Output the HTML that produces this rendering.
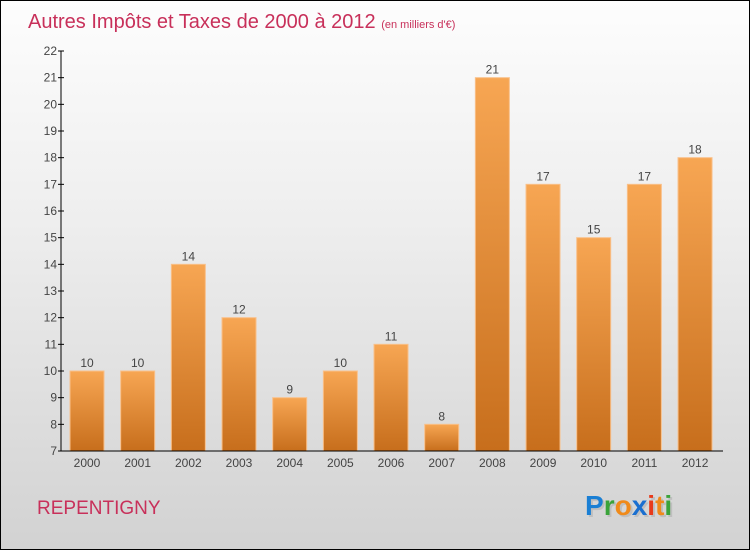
<!DOCTYPE html>
<html><head><meta charset="utf-8"><style>
body{margin:0}
#c{width:750px;height:550px;position:relative;box-sizing:border-box;border:1px solid #000;background:linear-gradient(#fdfdfd,#eeeeee 40%,#d2d2d2);font-family:"Liberation Sans",sans-serif;overflow:hidden}
</style></head><body>
<div id="c">
<svg id="s" width="750" height="550" style="position:absolute;left:0;top:0">
<defs><linearGradient id="g" x1="0" y1="0" x2="0" y2="1"><stop offset="0" stop-color="#f7a653"/><stop offset="1" stop-color="#c76e1c"/></linearGradient></defs>
<text x="27" y="27" font-size="20" fill="#c8305a">Autres Impôts et Taxes de 2000 à 2012 <tspan font-size="11">(en milliers d'€)</tspan></text>
<text x="36" y="513" font-size="19" fill="#c8305a">REPENTIGNY</text>
<g font-size="28" font-weight="bold" font-family="'Liberation Sans',sans-serif">
<text x="586" y="516" fill="#aaa" opacity="0.5">Proxiti</text>
<text x="584" y="514"><tspan fill="#1a7fd4">P</tspan><tspan fill="#3aa33a">r</tspan><tspan fill="#f08a1a">o</tspan><tspan fill="#1a6fd0">x</tspan><tspan fill="#e83a1a">i</tspan><tspan fill="#f08a1a">t</tspan><tspan fill="#3aa33a">i</tspan></text>
</g>
</svg>
</div>
<script>
const categories=["2000","2001","2002","2003","2004","2005","2006","2007","2008","2009","2010","2011","2012"];
const values=[10,10,14,12,9,10,11,8,21,17,15,17,18];
const yTicks=[7,8,9,10,11,12,13,14,15,16,17,18,19,20,21,22];
const NS="http://www.w3.org/2000/svg";
const s=document.getElementById('s');
const x0=60,x1=722,yTop=50,yBot=450,yMin=7,yMax=22;
const y=v=>yBot-(v-yMin)/(yMax-yMin)*(yBot-yTop);
const step=50.67,xc=i=>86+i*step,bw=34;
function el(t,a){const e=document.createElementNS(NS,t);for(const k in a)e.setAttribute(k,a[k]);s.appendChild(e);return e;}
yTicks.forEach(v=>{
 const l=el('line',{x1:x0-3,x2:x0+3,y1:y(v),y2:y(v),stroke:'#000'});
 
 
 const t=el('text',{x:x0-4,y:y(v)+4,'text-anchor':'end','font-size':12,fill:'#444'});
 t.textContent=v;
 
 
});
categories.forEach((c,i)=>{
 const r=el('rect',{x:xc(i)-bw/2,y:y(values[i]),width:bw,height:yBot-y(values[i]),fill:'url(#g)',stroke:'#f9c08a','stroke-width':1});
 
 
 const v=el('text',{x:xc(i),y:y(values[i])-4,'text-anchor':'middle','font-size':12,fill:'#444'});
 v.textContent=values[i];
 
 
 const t=el('text',{x:xc(i),y:466,'text-anchor':'middle','font-size':12,fill:'#444'});
 t.textContent=c;
 
 
});
const ya=el('line',{x1:x0,x2:x0,y1:yTop,y2:yBot,stroke:'#000'});


const xa=el('line',{x1:x0,x2:x1,y1:yBot,y2:yBot,stroke:'#000'});


</script>
</body></html>
